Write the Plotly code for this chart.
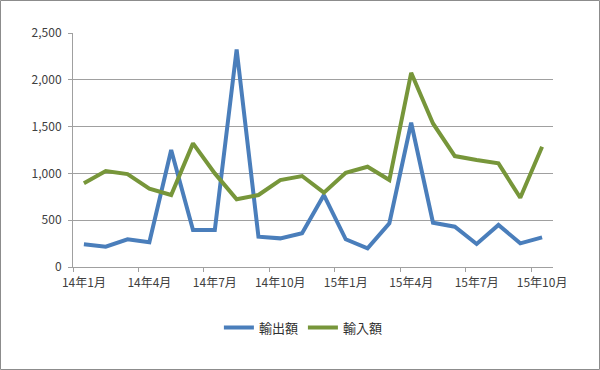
import plotly.graph_objects as go

months = ["14年1月", "14年2月", "14年3月", "14年4月", "14年5月", "14年6月",
          "14年7月", "14年8月", "14年9月", "14年10月", "14年11月", "14年12月",
          "15年1月", "15年2月", "15年3月", "15年4月", "15年5月", "15年6月",
          "15年7月", "15年8月", "15年9月", "15年10月"]
exports = [242, 217, 296, 264, 1250, 395, 395, 2325, 324, 306, 360, 769,
           296, 200, 467, 1541, 473, 430, 246, 449, 253, 317]
imports = [894, 1025, 993, 836, 769, 1321, 1000, 723, 769, 929, 972, 794,
           1007, 1071, 929, 2075, 1534, 1185, 1143, 1107, 740, 1285]
series_names = ["輸出額", "輸入額"]
colors = ["#4a7ebb", "#77963a"]

font = "Noto Sans CJK JP, Noto Sans, sans-serif"

fig = go.Figure()
for name, vals, col in zip(series_names, [exports, imports], colors):
    fig.add_trace(go.Scatter(x=months, y=vals, name=name, mode="lines",
                             line=dict(color=col, width=4)))

L, R, T, B = 73, 47, 33, 103
W, H = 600, 370
pw, ph = W - L - R, H - T - B

fig.update_layout(
    width=W, height=H,
    margin=dict(l=L, r=R, t=T, b=B, pad=0, autoexpand=False),
    paper_bgcolor="white", plot_bgcolor="white",
    font=dict(family=font, size=12, color="#404040"),
    showlegend=True,
    legend=dict(orientation="h", x=0.48, xanchor="center", y=-0.195, yanchor="top",
                font=dict(size=13, color="#303030"), itemwidth=30,
                tracegroupgap=0),
    xaxis=dict(type="category", range=[-0.5, 21.5], tickmode="linear", tick0=0, dtick=3,
               tickson="boundaries", ticks="outside", ticklen=4, tickcolor="#a0a0a0",
               showline=True, linecolor="#a0a0a0", linewidth=1, showgrid=False,
               tickfont=dict(size=12, color="#404040"), tickangle=0, fixedrange=True,
               automargin=False, ticklabelstandoff=5),
    yaxis=dict(range=[0, 2500], dtick=500, tickformat=",", showgrid=True,
               gridcolor="#a0a0a0", gridwidth=1, showline=True, linecolor="#a0a0a0",
               ticks="outside", ticklen=4, tickcolor="#a0a0a0", zeroline=False,
               tickfont=dict(size=12, color="#404040"), fixedrange=True,
               automargin=False, ticklabelstandoff=4),
    shapes=[dict(type="rect", xref="paper", yref="paper",
                 x0=(-L + 0.5) / pw, x1=1 + (R - 0.5) / pw,
                 y0=(-B + 0.5) / ph, y1=1 + (T - 0.5) / ph,
                 line=dict(color="#8c8c8c", width=1), layer="below")],
)

fig.write_html("out.html", config={"displayModeBar": False},
               post_script="document.body.style.margin='0';document.body.style.padding='0';")
